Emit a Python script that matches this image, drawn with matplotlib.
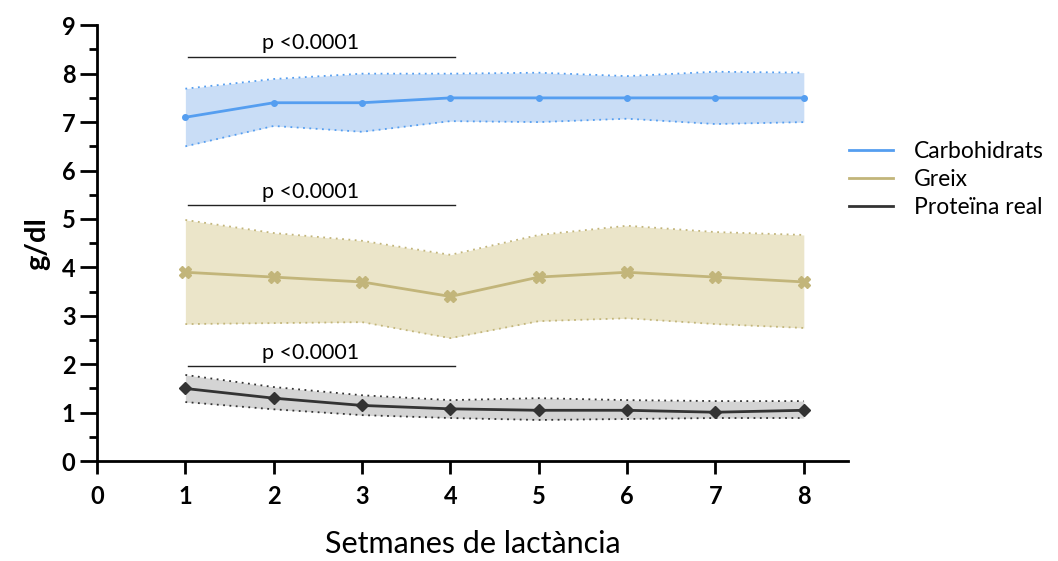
import matplotlib
matplotlib.use("Agg")
import matplotlib.pyplot as plt
from matplotlib.ticker import MultipleLocator
from matplotlib.lines import Line2D

plt.rcParams['font.family'] = ['Lato', 'DejaVu Sans']

setmanes = [1, 2, 3, 4, 5, 6, 7, 8]

carbo = [7.1, 7.4, 7.4, 7.5, 7.5, 7.5, 7.5, 7.5]
carbo_sup = [7.69, 7.89, 8.0, 8.0, 8.02, 7.95, 8.04, 8.02]
carbo_inf = [6.5, 6.92, 6.8, 7.02, 7.0, 7.07, 6.96, 7.0]

greix = [3.9, 3.8, 3.7, 3.4, 3.8, 3.9, 3.8, 3.7]
greix_sup = [4.98, 4.71, 4.55, 4.26, 4.67, 4.86, 4.73, 4.67]
greix_inf = [2.83, 2.85, 2.87, 2.54, 2.89, 2.95, 2.83, 2.75]

prot = [1.5, 1.3, 1.15, 1.08, 1.05, 1.05, 1.01, 1.05]
prot_sup = [1.78, 1.53, 1.36, 1.26, 1.30, 1.26, 1.24, 1.24]
prot_inf = [1.22, 1.07, 0.95, 0.89, 0.85, 0.87, 0.89, 0.89]

# barres de significacio (y de la linia)
signif_y = [8.35, 5.29, 1.96]

series = [
    ("Carbohidrats", carbo, carbo_sup, carbo_inf, "#559ef0", "#c9ddf6", "o", 4),
    ("Greix", greix, greix_sup, greix_inf, "#c2b57a", "#ebe5c9", "X", 9),
    ("Proteïna real", prot, prot_sup, prot_inf, "#333333", "#d4d4d4", "D", 6),
]

fig = plt.figure(figsize=(10.58, 5.61), dpi=100)
ax = fig.add_axes([0.0917, 0.178, 0.7098, 0.777])

for nom, m, sup, inf, col, fons, mk, ms in series:
    ax.fill_between(setmanes, inf, sup, color=fons, lw=0)
    ax.plot(setmanes, sup, color=col, ls=(0, (1, 2.5)), lw=1.3)
    ax.plot(setmanes, inf, color=col, ls=(0, (1, 2.5)), lw=1.3)
    ax.plot(setmanes, m, color=col, lw=2, marker=mk, ms=ms, label=nom)

for yy in signif_y:
    ax.plot([1.03, 4.05], [yy, yy], color="#222222", lw=1)
    ax.text(2.42, yy + 0.07, "p <0.0001", ha="center", va="bottom", fontsize=15.5)

ax.set_xlim(0, 8.5)
ax.set_ylim(0, 9)
ax.xaxis.set_major_locator(MultipleLocator(1))
ax.yaxis.set_major_locator(MultipleLocator(1))
ax.yaxis.set_minor_locator(MultipleLocator(0.5))
ax.spines['top'].set_visible(False)
ax.spines['right'].set_visible(False)
ax.spines['left'].set_linewidth(2)
ax.spines['bottom'].set_linewidth(2)
ax.tick_params(axis='both', which='major', width=2, length=12, labelsize=17)
ax.tick_params(axis='y', which='minor', width=2, length=6)
ax.tick_params(axis='x', which='major', length=9, pad=8)
for lab in ax.get_xticklabels() + ax.get_yticklabels():
    lab.set_fontweight('bold')

ax.set_ylabel("g/dl", fontsize=21, fontweight='bold', labelpad=8)
ax.set_xlabel("Setmanes de lactància", fontsize=22, labelpad=16)

l = [s[0] for s in series]
hs = [Line2D([], [], color=s[4], lw=2) for s in series]
fig.legend(hs, l, loc="upper left", bbox_to_anchor=(0.783, 0.785), frameon=False,
           fontsize=16.5, handlelength=1.9, handletextpad=0.95, labelspacing=0.3)

fig.savefig("out.png", dpi=100)
